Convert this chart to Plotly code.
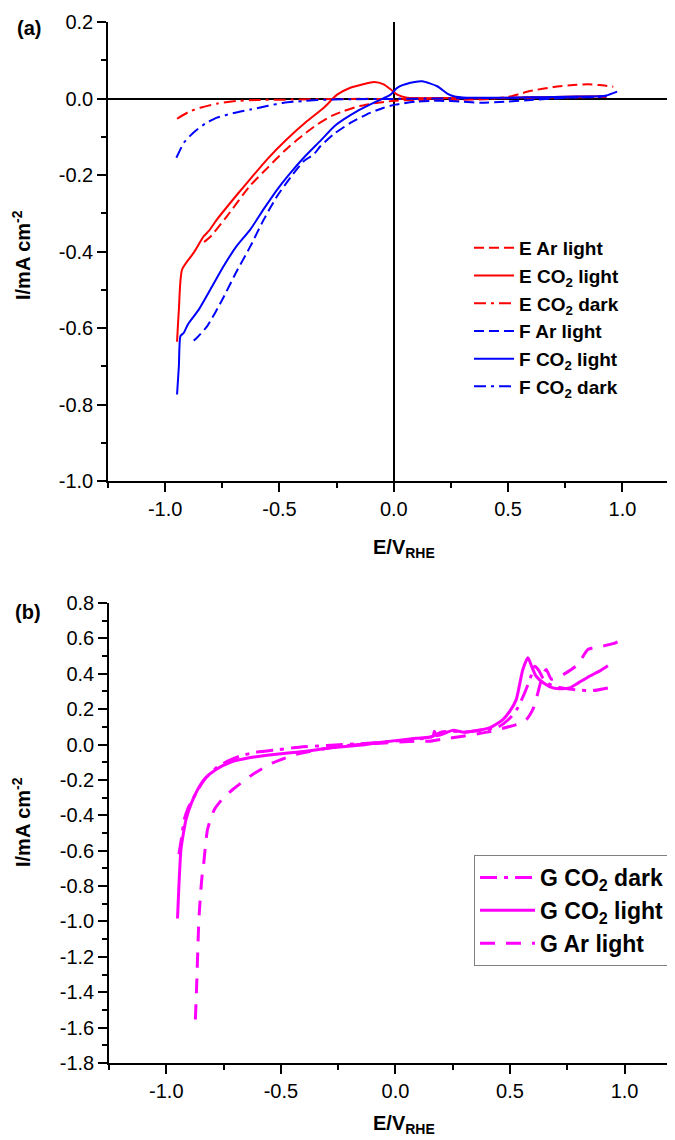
import plotly.graph_objects as go

# ---------------- Panel (a) data ----------------
E_Ar_light_x = [-0.83, -0.80, -0.73, -0.63, -0.55, -0.48, -0.40, -0.335, -0.27, -0.22, -0.15, -0.08, -0.04, 0.0, 0.1, 0.2, 0.3, 0.4, 0.5, 0.55, 0.6, 0.7, 0.8, 0.85, 0.9, 0.96]
E_Ar_light_y = [-0.375, -0.36, -0.308, -0.229, -0.18, -0.138, -0.097, -0.068, -0.045, -0.033, -0.02, -0.012, -0.009, -0.006, -0.004, -0.004, -0.003, -0.002, 0.004, 0.012, 0.02, 0.03, 0.036, 0.037, 0.035, 0.031]

E_CO2_light_x = [-0.948, -0.94, -0.926, -0.875, -0.831, -0.81, -0.773, -0.685, -0.62, -0.554, -0.47, -0.379, -0.306, -0.248, -0.19, -0.13, -0.087, -0.044, -0.014, 0.015, 0.058, 0.1, 0.2, 0.3, 0.4, 0.5, 0.6, 0.7, 0.8, 0.93]
E_CO2_light_y = [-0.636, -0.552, -0.447, -0.403, -0.36, -0.347, -0.316, -0.251, -0.205, -0.159, -0.108, -0.059, -0.024, 0.010, 0.028, 0.038, 0.043, 0.037, 0.024, 0.010, 0.002, 0.001, 0.001, 0.001, 0.001, 0.002, 0.003, 0.004, 0.005, 0.006]

E_CO2_dark_x = [-0.948, -0.90, -0.846, -0.77, -0.70, -0.60, -0.48, -0.35, -0.2, 0.0, 0.2, 0.4, 0.6, 0.8, 0.93]
E_CO2_dark_y = [-0.053, -0.036, -0.024, -0.013, -0.007, -0.004, -0.003, -0.002, -0.001, -0.001, 0.0, 0.0, 0.002, 0.003, 0.004]

F_Ar_light_x = [-0.875, -0.86, -0.816, -0.751, -0.69, -0.627, -0.57, -0.51, -0.45, -0.394, -0.35, -0.321, -0.26, -0.19, -0.12, -0.044, 0.007, 0.1, 0.2, 0.3, 0.38, 0.5, 0.6, 0.7, 0.8, 0.93]
F_Ar_light_y = [-0.633, -0.625, -0.595, -0.527, -0.455, -0.386, -0.318, -0.255, -0.205, -0.164, -0.146, -0.125, -0.092, -0.064, -0.042, -0.024, -0.016, -0.008, -0.006, -0.008, -0.011, -0.008, -0.004, 0.0, 0.003, 0.006]

F_CO2_light_x = [-0.948, -0.94, -0.933, -0.919, -0.90, -0.853, -0.80, -0.744, -0.69, -0.627, -0.57, -0.51, -0.45, -0.394, -0.32, -0.255, -0.16, -0.073, -0.014, 0.015, 0.073, 0.124, 0.19, 0.234, 0.262, 0.32, 0.4, 0.5, 0.6, 0.7, 0.8, 0.9, 0.93, 0.977]
F_CO2_light_y = [-0.774, -0.70, -0.621, -0.613, -0.59, -0.552, -0.497, -0.438, -0.388, -0.342, -0.29, -0.238, -0.193, -0.155, -0.11, -0.07, -0.033, -0.007, 0.010, 0.028, 0.041, 0.045, 0.032, 0.013, 0.006, 0.002, 0.002, 0.002, 0.003, 0.004, 0.005, 0.006, 0.008, 0.018]

F_CO2_dark_x = [-0.951, -0.935, -0.919, -0.89, -0.86, -0.82, -0.773, -0.70, -0.627, -0.55, -0.481, -0.40, -0.335, -0.2, 0.0, 0.2, 0.4, 0.6, 0.8, 0.93]
F_CO2_dark_y = [-0.155, -0.135, -0.116, -0.097, -0.081, -0.064, -0.050, -0.038, -0.029, -0.019, -0.011, -0.007, -0.004, -0.002, -0.001, 0.0, 0.001, 0.002, 0.003, 0.004]

# ---------------- Panel (b) data ----------------
G_CO2_dark_x = [-0.945, -0.936, -0.921, -0.905, -0.885, -0.86, -0.827, -0.78, -0.732, -0.68, -0.623, -0.52, -0.419, -0.3, -0.15, 0.0, 0.15, 0.2, 0.25, 0.3, 0.4, 0.45, 0.5, 0.53, 0.56, 0.59, 0.607, 0.625, 0.643, 0.672, 0.71, 0.745, 0.8, 0.862, 0.927]
G_CO2_dark_y = [-0.62, -0.55, -0.42, -0.36, -0.311, -0.25, -0.188, -0.13, -0.094, -0.066, -0.047, -0.03, -0.015, -0.005, 0.005, 0.02, 0.04, 0.07, 0.075, 0.07, 0.085, 0.10, 0.15, 0.20, 0.28, 0.38, 0.442, 0.42, 0.377, 0.34, 0.325, 0.316, 0.308, 0.305, 0.32]

G_CO2_light_x = [-0.951, -0.945, -0.936, -0.925, -0.914, -0.89, -0.863, -0.83, -0.783, -0.72, -0.638, -0.52, -0.39, -0.288, -0.15, -0.07, 0.09, 0.163, 0.17, 0.18, 0.25, 0.3, 0.41, 0.469, 0.50, 0.527, 0.556, 0.578, 0.595, 0.614, 0.65, 0.687, 0.72, 0.76, 0.80, 0.847, 0.89, 0.927]
G_CO2_light_y = [-0.983, -0.80, -0.593, -0.50, -0.424, -0.33, -0.254, -0.19, -0.141, -0.10, -0.075, -0.055, -0.038, -0.02, -0.003, 0.012, 0.035, 0.047, 0.075, 0.05, 0.08, 0.07, 0.094, 0.141, 0.19, 0.254, 0.424, 0.49, 0.44, 0.386, 0.345, 0.32, 0.315, 0.32, 0.35, 0.386, 0.415, 0.446]

G_Ar_light_x = [-0.873, -0.867, -0.86, -0.856, -0.849, -0.841, -0.838, -0.82, -0.79, -0.75, -0.71, -0.623, -0.536, -0.434, -0.245, 0.09, 0.148, 0.2, 0.294, 0.4, 0.527, 0.571, 0.60, 0.614, 0.629, 0.645, 0.658, 0.68, 0.71, 0.745, 0.796, 0.84, 0.898, 0.95, 1.0]
G_Ar_light_y = [-1.554, -1.346, -1.064, -0.951, -0.819, -0.706, -0.687, -0.48, -0.367, -0.30, -0.254, -0.169, -0.104, -0.056, -0.01, 0.019, 0.019, 0.03, 0.047, 0.07, 0.113, 0.141, 0.20, 0.254, 0.33, 0.40, 0.424, 0.37, 0.38, 0.405, 0.452, 0.537, 0.555, 0.57, 0.60]

# ---------------- Tick labels ----------------
X_TICK_VALS = [-1.0, -0.5, 0.0, 0.5, 1.0]
X_TICK_TEXT = ["-1.0", "-0.5", "0.0", "0.5", "1.0"]
YA_TICK_VALS = [-1.0, -0.8, -0.6, -0.4, -0.2, 0.0, 0.2]
YA_TICK_TEXT = ["-1.0", "-0.8", "-0.6", "-0.4", "-0.2", "0.0", "0.2"]
YB_TICK_VALS = [-1.8, -1.6, -1.4, -1.2, -1.0, -0.8, -0.6, -0.4, -0.2, 0.0, 0.2, 0.4, 0.6, 0.8]
YB_TICK_TEXT = ["-1.8", "-1.6", "-1.4", "-1.2", "-1.0", "-0.8", "-0.6", "-0.4", "-0.2", "0.0", "0.2", "0.4", "0.6", "0.8"]

# page body margin (8px) is compensated so the figure fills the 675x1140 window
OFF = 8
W, H = 675 - OFF, 1140 - OFF
FONT = "Arial, Liberation Sans, sans-serif"
RED, BLUE, MAG = "#FF0000", "#0000FF", "#FF00FF"
DASH_A = "10px,5px"
DASHDOT_A = "12px,5px,3px,5px"
DASH_B = "15px,11px"
DASHDOT_B = "17px,7px,4px,7px"


def px(x):
    return (x - OFF) / W


def py(y):
    return 1 - (y - OFF) / H


fig = go.Figure()

panel_a = [
    ("E Ar light", E_Ar_light_x, E_Ar_light_y, RED, DASH_A),
    ("E CO<sub>2</sub> light", E_CO2_light_x, E_CO2_light_y, RED, "solid"),
    ("E CO<sub>2</sub> dark", E_CO2_dark_x, E_CO2_dark_y, RED, DASHDOT_A),
    ("F Ar light", F_Ar_light_x, F_Ar_light_y, BLUE, DASH_A),
    ("F CO<sub>2</sub> light", F_CO2_light_x, F_CO2_light_y, BLUE, "solid"),
    ("F CO<sub>2</sub> dark", F_CO2_dark_x, F_CO2_dark_y, BLUE, DASHDOT_A),
]
for i, (name, xs, ys, col, dash) in enumerate(panel_a):
    fig.add_trace(go.Scatter(x=xs, y=ys, mode="lines", name=name,
                             line=dict(color=col, width=2, dash=dash, shape="spline", smoothing=0.6),
                             xaxis="x", yaxis="y", legend="legend", legendgroup=f"a{i}"))

panel_b = [
    ("G CO<sub>2</sub> dark", G_CO2_dark_x, G_CO2_dark_y, MAG, DASHDOT_B),
    ("G CO<sub>2</sub> light", G_CO2_light_x, G_CO2_light_y, MAG, "solid"),
    ("G Ar light", G_Ar_light_x, G_Ar_light_y, MAG, DASH_B),
]
for i, (name, xs, ys, col, dash) in enumerate(panel_b):
    fig.add_trace(go.Scatter(x=xs, y=ys, mode="lines", name=name,
                             line=dict(color=col, width=3, dash=dash, shape="spline", smoothing=0.6),
                             xaxis="x2", yaxis="y2", legend="legend2", legendgroup=f"b{i}"))

tickfont = dict(family=FONT, size=20, color="black")
common_x = dict(showline=True, linecolor="black", linewidth=1.6, ticks="outside", ticklen=9,
                tickwidth=1.5, tickcolor="black", tickfont=tickfont, showgrid=False, automargin=False,
                tickmode="array", tickvals=X_TICK_VALS, ticktext=X_TICK_TEXT,
                minor=dict(ticks="outside", ticklen=5, tickwidth=1.5, tickcolor="black",
                           tickmode="linear", tick0=-1.25, dtick=0.5, showgrid=False))
common_y = dict(showline=True, linecolor="black", linewidth=1.6, ticks="outside", ticklen=9,
                tickwidth=1.5, tickcolor="black", tickfont=tickfont, showgrid=False, automargin=False,
                tickmode="array",
                minor=dict(ticks="outside", ticklen=5, tickwidth=1.5, tickcolor="black",
                           tickmode="linear", tick0=0.1, dtick=0.2, showgrid=False))

fig.update_layout(
    width=W, height=H,
    margin=dict(l=0, r=0, t=0, b=0, autoexpand=False),
    paper_bgcolor="white", plot_bgcolor="white",
    font=dict(family=FONT, size=20, color="black"),
    xaxis=dict(common_x, domain=[px(108), 1.0], range=[-1.25, 1.23], anchor="y",
               zeroline=True, zerolinecolor="black", zerolinewidth=1.6),
    yaxis=dict(common_y, domain=[py(481), py(22)], range=[-1.0, 0.2], anchor="x",
               tickvals=YA_TICK_VALS, ticktext=YA_TICK_TEXT,
               zeroline=True, zerolinecolor="black", zerolinewidth=1.6),
    xaxis2=dict(common_x, domain=[px(109), 1.0], range=[-1.25, 1.22], anchor="y2", zeroline=False),
    yaxis2=dict(common_y, domain=[py(1063), py(603)], range=[-1.8, 0.8], anchor="x2",
                tickvals=YB_TICK_VALS, ticktext=YB_TICK_TEXT, zeroline=False),
    legend=dict(x=px(469), y=py(229), xanchor="left", yanchor="top",
                bgcolor="rgba(0,0,0,0)", borderwidth=0, tracegroupgap=0, itemwidth=40,
                font=dict(family=FONT, size=19, color="black", weight="bold")),
    legend2=dict(x=px(474), y=py(855), xanchor="left", yanchor="top",
                 bgcolor="white", bordercolor="#808080", borderwidth=1, tracegroupgap=0, itemwidth=55,
                 font=dict(family=FONT, size=23, color="black", weight="bold")),
    showlegend=True,
)

ann_font = dict(family=FONT, size=20, color="black", weight="bold")
annotations = [
    dict(text="(a)", x=px(29), y=py(28)),
    dict(text="(b)", x=px(28), y=py(612)),
    dict(text="E/V<sub>RHE</sub>", x=px(404), y=py(548)),
    dict(text="E/V<sub>RHE</sub>", x=px(404), y=py(1124)),
    dict(text="I/mA cm<sup>-2</sup>", x=px(21), y=py(255), textangle=-90),
    dict(text="I/mA cm<sup>-2</sup>", x=px(21), y=py(822), textangle=-90),
]
for a in annotations:
    fig.add_annotation(xref="paper", yref="paper", showarrow=False, xanchor="center",
                       yanchor="middle", font=ann_font, **a)

fig.write_html("out.html")
